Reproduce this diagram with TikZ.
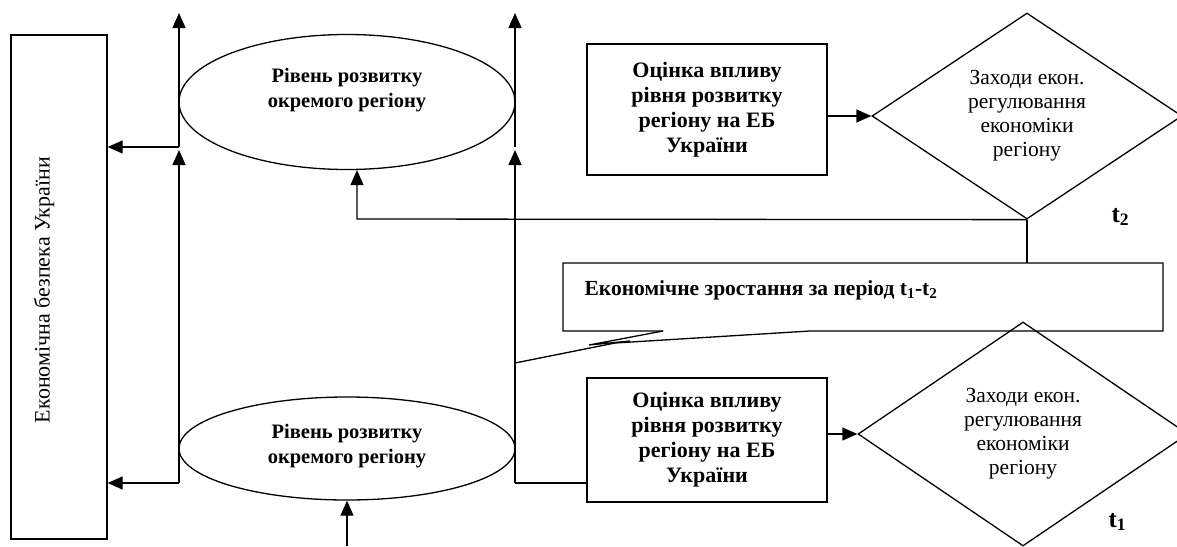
\documentclass[tikz,border=0pt]{standalone}
\usepackage{fontspec}
\setmainfont{Liberation Serif}
\usetikzlibrary{shapes.geometric,arrows.meta}
\begin{document}
\begin{tikzpicture}[x=1pt,y=-1pt,
  line width=1.3pt,
  every node/.style={font=\fontsize{20}{25}\selectfont},
  arr/.style={-{Triangle[length=15pt,width=13pt]}},
  boxst/.style={draw, rectangle, line width=1.3pt, align=center, inner sep=0pt, font=\fontsize{22}{25}\selectfont\bfseries},
  ell/.style={draw, ellipse, inner sep=0pt},
  dia/.style={draw, diamond, inner sep=0pt, aspect=1.5, align=center, font=\fontsize{21.5}{24}\selectfont},
  lbl/.style={font=\fontsize{20.5}{25}\selectfont\bfseries, align=center, inner sep=0pt},
  tlbl/.style={font=\fontsize{25}{25}\selectfont\bfseries, inner sep=0pt, anchor=base west},
]
\useasboundingbox (0,0) rectangle (1177,546);

% left box
\node[draw, minimum width=96pt, minimum height=504pt, inner sep=0pt] (eb) at (59,287) {};
\node[rotate=90, inner sep=0pt, font=\fontsize{22}{25}\selectfont] (ebt) at (44,290) {Економічна безпека України};

% ellipses
\node[ell, minimum width=336pt, minimum height=135pt] (e1) at (347,102) {};
\node[lbl] (e1t) at (347,90) {Рівень розвитку\\окремого регіону};
\node[ell, minimum width=336pt, minimum height=103pt] (e2) at (347,448.5) {};
\node[lbl] (e2t) at (347,446) {Рівень розвитку\\окремого регіону};

% boxes
\node[boxst, minimum width=240pt, minimum height=131pt] (b1) at (707,109.5) {Оцінка впливу\\рівня розвитку\\регіону на ЕБ\\України};
\node[boxst, minimum width=240pt, minimum height=124pt] (b2) at (707,440) {Оцінка впливу\\рівня розвитку\\регіону на ЕБ\\України};

% diamonds
\node[dia, minimum width=310pt, minimum height=206pt] (d1) at (1027,116) {Заходи екон.\\регулювання\\економіки\\регіону};
\node[dia, minimum width=330pt, minimum height=224pt] (d2) at (1023,434) {Заходи екон.\\регулювання\\економіки\\регіону};

% growth callout
\coordinate (gtop) at (1027,263);
\coordinate (vline) at (515,363);
\draw[line join=miter] (663,331) -- (563,331) -- (563,263) -- (1163,263) -- (1163,331) -- (810,331) -- (615,343) -- (vline);
\draw (663,331) -- (589,345) -- (630,341);
\node[lbl, anchor=base west, font=\fontsize{21.5}{25}\selectfont\bfseries] (gt) at (584,295) {Економічне зростання за період t\textsubscript{1}-t\textsubscript{2}};

% left vertical line
\coordinate (L1) at (179,483);
\coordinate (L2u) at (179,150);
\coordinate (L2) at (179,147);
\coordinate (L3) at (179,13);
\draw[arr] (L1) -- (L2u);
\draw[arr] (L2) -- (L3);
\draw[arr] (L2) -- (L2 -| eb.east);
\draw[arr] (L1) -- (L1 -| eb.east);

% middle vertical line
\coordinate (R1) at (515,483);
\coordinate (R2u) at (515,150);
\coordinate (R2) at (515,147);
\coordinate (R3) at (515,13);
\draw[arr] (R1) -- (R2u);
\draw[arr] (R2) -- (R3);
\draw (R1) -- (R1 -| b2.west);

% feedback from upper diamond
\coordinate (fb) at (357,219);
\draw[arr] (d1.south) -- (fb) -- (fb |- e1.south);
\draw (d1.south) -- (gtop);

% bottom arrow
\coordinate (B0) at (347,546);
\draw[arr] (B0) -- (e2.south);

% box to diamond
\draw[arr] (b1.east |- d1.west) -- (d1.west);
\draw[arr] (b2.east |- d2.west) -- (d2.west);

% time labels
\node[tlbl] (t2) at (1111,222) {t\textsubscript{2}};
\node[tlbl] (t1) at (1108,527) {t\textsubscript{1}};
\end{tikzpicture}
\end{document}
